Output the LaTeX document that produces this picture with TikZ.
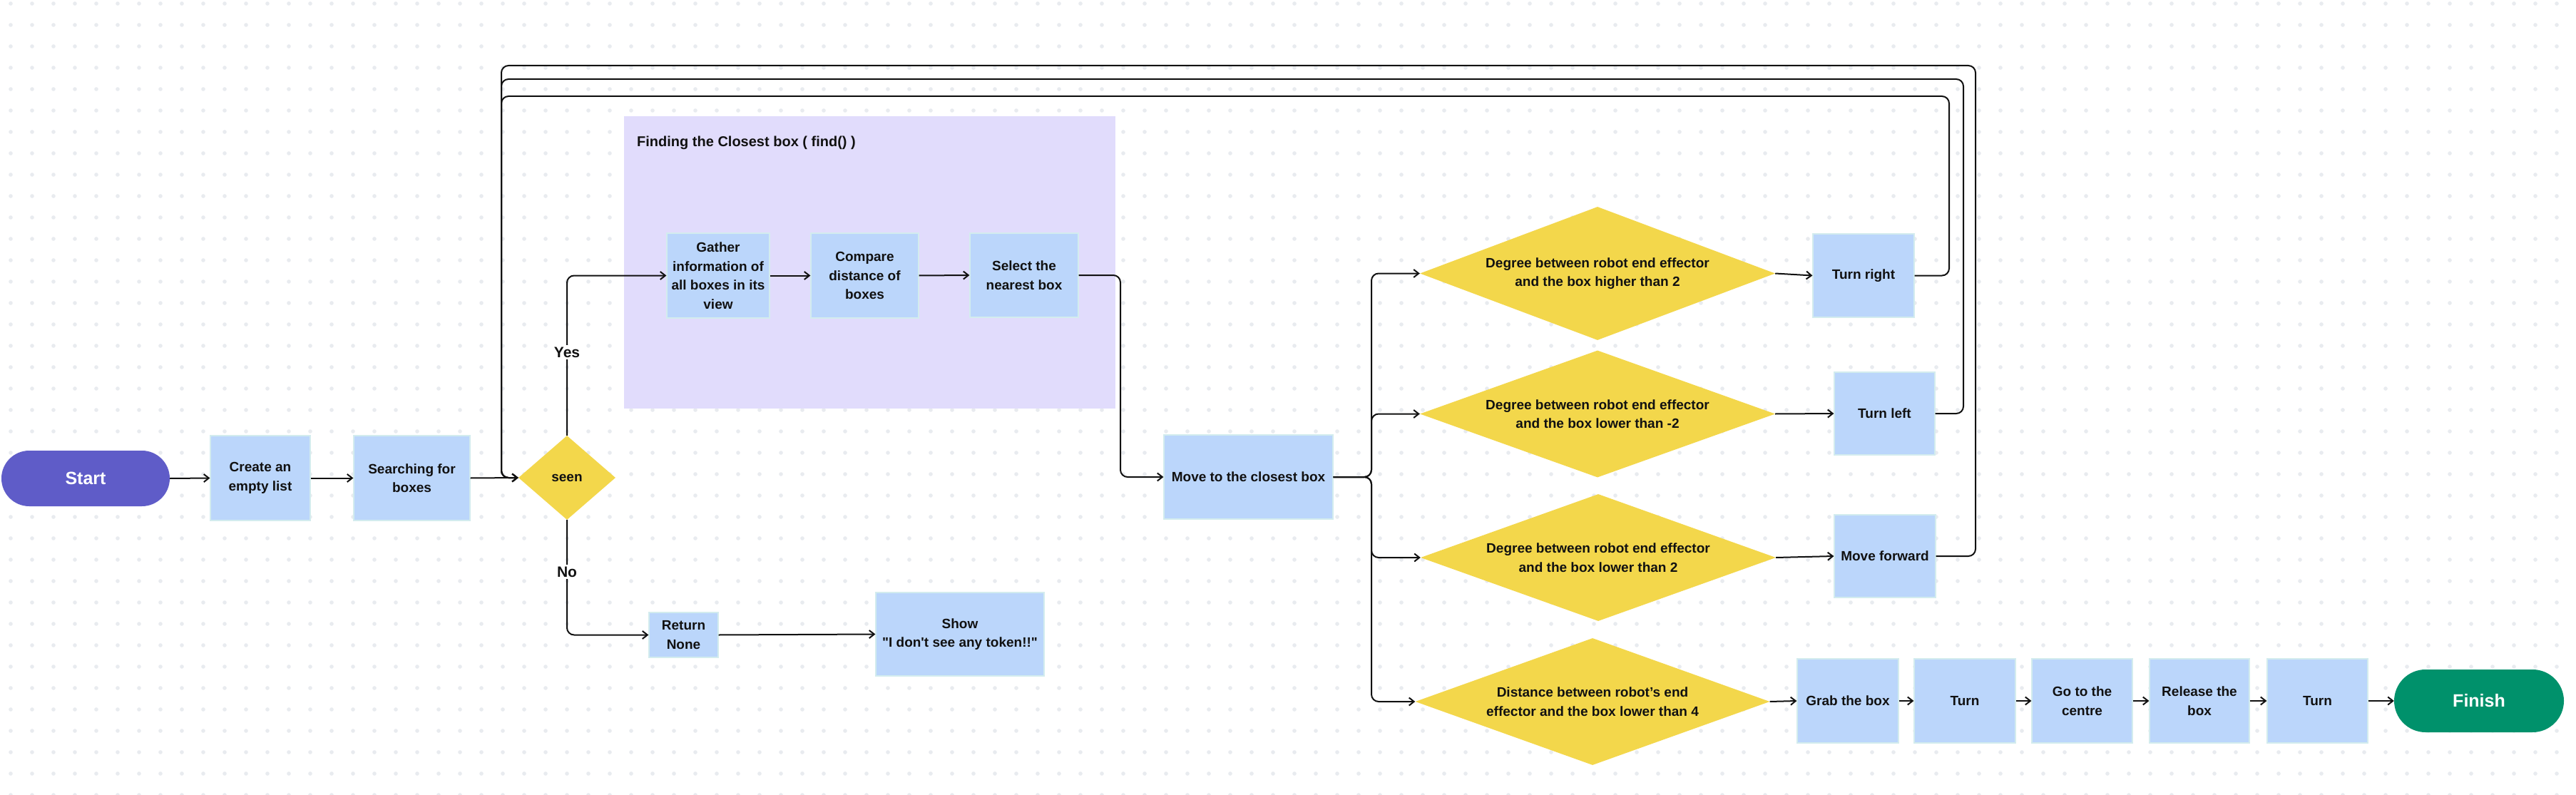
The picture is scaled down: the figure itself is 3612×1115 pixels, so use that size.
\documentclass[tikz,border=0pt]{standalone}
\usepackage{fontspec}
\setmainfont{Liberation Sans}[Ligatures=TeXOff]
\usetikzlibrary{shapes.geometric,arrows.meta}
\definecolor{boxblue}{HTML}{BBD6FB}
\definecolor{boxedge}{HTML}{D3ECEE}
\definecolor{decyel}{HTML}{F3D74B}
\definecolor{purp}{HTML}{E1DCFC}
\definecolor{startc}{HTML}{5F5CC8}
\definecolor{finc}{HTML}{00916B}
\definecolor{dotc}{HTML}{E8EBEF}
\definecolor{ink}{HTML}{111111}
\newcommand\mybx{\fontsize{19}{26.5}\selectfont\bfseries}
\begin{document}
\begin{tikzpicture}[x=1pt,y=-1pt,
  proc/.style={rectangle, fill=boxblue, draw=boxedge, line width=1.2pt, inner sep=0pt, align=center, font=\mybx, text=ink},
  dec/.style={diamond, fill=decyel, inner sep=0pt, align=center, font=\mybx, text=ink},
  term/.style={rectangle, rounded corners=#1, inner sep=0pt, text=white, font=\fontsize{25}{30}\selectfont\bfseries},
  conn/.style={draw=ink, line width=2pt, rounded corners=10pt, -{Straight Barb[length=7pt,width=11pt]}},
  lab/.style={fill=white, inner sep=3pt, font=\fontsize{21}{25}\selectfont\bfseries, text=ink}
]
\useasboundingbox (0,0) rectangle (3612,1115);
\fill[white] (0,0) rectangle (3612,1115);
\foreach \i in {0,...,119} {
  \foreach \j in {0,...,37} {
    \fill[dotc] ({15+30*\i},{5+30*\j}) circle[radius=2.8pt];
  }
}
% group region
\node[fill=purp, inner sep=0pt, minimum width=689pt, minimum height=410pt, anchor=north west] (fcb) at (875,163) {};
\node[anchor=west, font=\fontsize{20}{24}\selectfont\bfseries, text=ink, inner sep=0pt] (fcbt) at (893,200) {Finding the Closest box ( find() )};

% nodes
\node[term=39pt, fill=startc, minimum width=236pt, minimum height=78pt] (start) at (120,671) {Start};
\node[proc, minimum width=140pt, minimum height=119pt] (create) at (365,670.5) {Create an\\empty list};
\node[proc, minimum width=163pt, minimum height=119pt] (search) at (577.5,670.5) {Searching for\\boxes};
\node[dec, minimum width=136pt, minimum height=118pt, aspect=1.15] (seen) at (795,670) {seen};

\node[proc, minimum width=144pt, minimum height=119pt] (gather) at (1007,386.5) {Gather\\information of\\all boxes in its\\view};
\node[proc, minimum width=151pt, minimum height=119pt] (compare) at (1212.5,386.5) {Compare\\distance of\\boxes};
\node[proc, minimum width=152pt, minimum height=118pt] (select) at (1436,386) {Select the\\nearest box};

\node[proc, minimum width=97pt, minimum height=63pt] (retnone) at (958.5,890.5) {Return\\None};
\node[proc, minimum width=236pt, minimum height=117pt] (show) at (1346,889.5) {Show\\"I don't see any token!!"};

\node[proc, minimum width=237pt, minimum height=118pt] (move) at (1750.5,669) {Move to the closest box};

\node[dec, minimum width=498pt, minimum height=187pt, aspect=2.66] (d1) at (2240,383.5) {Degree between robot end effector\\and the box higher than 2};
\node[dec, minimum width=498pt, minimum height=178pt, aspect=2.8] (d2) at (2240,580.5) {Degree between robot end effector\\and the box lower than -2};
\node[dec, minimum width=498pt, minimum height=178pt, aspect=2.8] (d3) at (2241,782) {Degree between robot end effector\\and the box lower than 2};
\node[dec, minimum width=497pt, minimum height=178pt, aspect=2.8] (d4) at (2233,984) {Distance between robot’s end\\effector and the box lower than 4};

\node[proc, minimum width=142pt, minimum height=117pt] (tright) at (2613,386.5) {Turn right};
\node[proc, minimum width=141pt, minimum height=116pt] (tleft) at (2642.5,580) {Turn left};
\node[proc, minimum width=142pt, minimum height=116pt] (mfwd) at (2643,780) {Move forward};

\node[proc, minimum width=142pt, minimum height=118pt] (grab) at (2591,983) {Grab the box};
\node[proc, minimum width=142pt, minimum height=118pt] (turna) at (2755,983) {Turn};
\node[proc, minimum width=141pt, minimum height=118pt] (goc) at (2919.5,983) {Go to the\\centre};
\node[proc, minimum width=140pt, minimum height=118pt] (rel) at (3084,983) {Release the\\box};
\node[proc, minimum width=141pt, minimum height=118pt] (turnb) at (3249.5,983) {Turn};
\node[term=44pt, fill=finc, minimum width=238pt, minimum height=88pt] (finish) at (3476,983) {Finish};

% helper coordinates
\coordinate (c1) at (2733,135);
\coordinate (c2) at (2753,111);
\coordinate (c3) at (2770,92);
\coordinate (cl) at (703,670);
\coordinate (j1) at (1571,386);
\coordinate (br) at (1923,669);

% connectors
\draw[conn] (start.east) -- (create.west);
\draw[conn] (create.east) -- (search.west);
\draw[conn] (search.east) -- (seen.west);
\draw[conn] (seen.north) |- (gather.west);
\draw[conn] (seen.south) |- (retnone.west);
\draw[conn] (retnone.east) -- (show.west);
\draw[conn] (gather.east) -- (compare.west);
\draw[conn] (compare.east) -- (select.west);
\draw[conn] (select.east) -- (j1) |- (move.west);
\draw[conn] (move.east) -- (br) |- (d1.west);
\draw[conn] (move.east) -- (br) |- (d2.west);
\draw[conn] (move.east) -- (br) |- (d3.west);
\draw[conn] (move.east) -- (br) |- (d4.west);
\draw[conn] (d1.east) -- (tright.west);
\draw[conn] (d2.east) -- (tleft.west);
\draw[conn] (d3.east) -- (mfwd.west);
\draw[conn] (d4.east) -- (grab.west);
\draw[conn] (grab.east) -- (turna.west);
\draw[conn] (turna.east) -- (goc.west);
\draw[conn] (goc.east) -- (rel.west);
\draw[conn] (rel.east) -- (turnb.west);
\draw[conn] (turnb.east) -- (finish.west);
\draw[conn] (tright.east) -| (c1) -| (cl) -- (seen.west);
\draw[conn] (tleft.east) -| (c2) -| (cl) -- (seen.west);
\draw[conn] (mfwd.east) -| (c3) -| (cl) -- (seen.west);

% branch labels
\node[lab] (yes) at (795,494) {Yes};
\node[lab] (no) at (795,802) {No};
\end{tikzpicture}
\end{document}
